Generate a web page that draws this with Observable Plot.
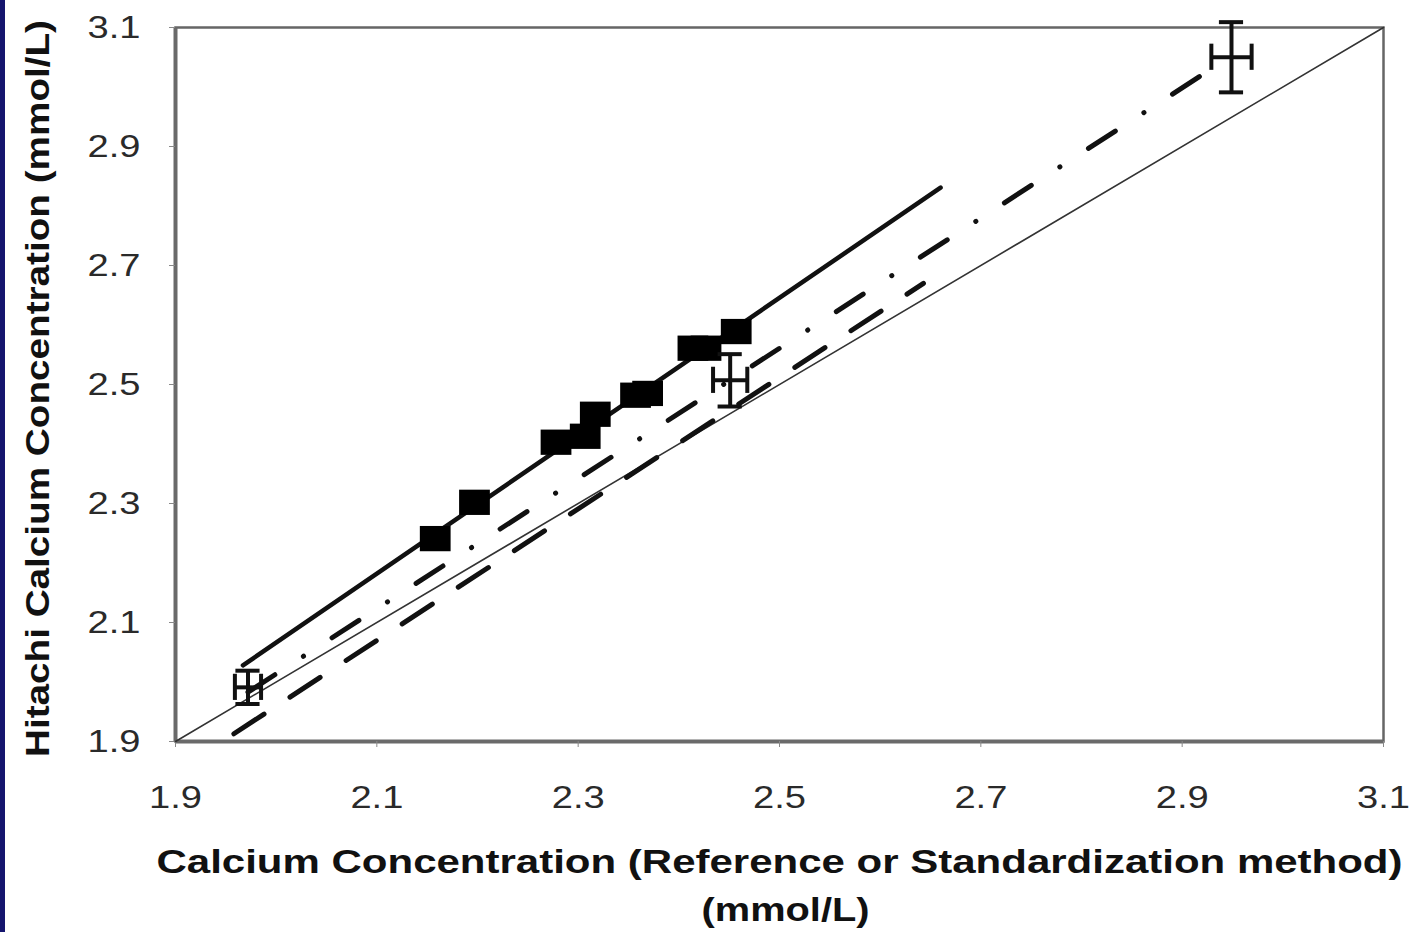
<!DOCTYPE html>
<html><head><meta charset="utf-8">
<script src="https://cdn.jsdelivr.net/npm/d3@7"></script>
<script src="https://cdn.jsdelivr.net/npm/@observablehq/plot@0.6"></script>
<style>
body{margin:0;background:#fff;}
#wrap{position:relative;width:1417px;height:932px;overflow:hidden;background:#fff;}
#strip{position:absolute;left:0;top:0;width:5px;height:932px;background:#15156e;}
</style></head><body><div id="wrap"><div id="strip"></div></div>
<script>
// Hitachi results (filled squares)
const squareX = [2.158, 2.197, 2.278, 2.307, 2.317, 2.357, 2.369, 2.414, 2.427, 2.457];
const squareY = [2.241, 2.302, 2.403, 2.413, 2.450, 2.482, 2.485, 2.561, 2.561, 2.589];
// reference points with error bars
const refX = [1.972, 2.451, 2.949];
const refY = [1.991, 2.507, 3.050];
const refErrX = [0.013, 0.017, 0.020];
const refErrY = [0.028, 0.044, 0.059];
// lines
const identityX = [1.9, 3.1];
const identityY = [1.9, 3.1];
const solidX = [1.967, 2.66];
const solidY = [2.028, 2.831];
const dashDotX = [1.972, 2.925];
const dashDotY = [1.983, 3.026];
const dashX = [1.958, 2.643];
const dashY = [1.913, 2.670];
const tickValues = [1.9, 2.1, 2.3, 2.5, 2.7, 2.9, 3.1];
const xTitle1 = "Calcium Concentration (Reference or Standardization method)";
const xTitle2 = "(mmol/L)";
const yTitle = "Hitachi Calcium Concentration (mmol/L)";

const squares = squareX.map((x, i) => ({x, y: squareY[i]}));
const refs = refX.map((x, i) => ({x, y: refY[i], ex: refErrX[i], ey: refErrY[i]}));
const line = (xs, ys) => xs.map((x, i) => ({x, y: ys[i]}));
const capX = 0.012, capY = 0.022;

const rectSymbol = {
  draw(ctx, size) {
    const s = Math.sqrt(size) / 2;
    const w = s * 1.12, h = s * 0.92;
    ctx.moveTo(-w, -h); ctx.lineTo(w, -h); ctx.lineTo(w, h); ctx.lineTo(-w, h); ctx.closePath();
  }
};

const titleStyle = {text: d => d, fontSize: 34, fontWeight: "bold", fill: "#111", textAnchor: "middle", lineAnchor: "middle"};

const chart = Plot.plot({
  width: 1417, height: 932,
  marginLeft: 175, marginRight: 34, marginTop: 27, marginBottom: 191,
  style: {fontFamily: "Liberation Sans, Arial, sans-serif", background: "#fff"},
  x: {domain: [1.9, 3.1]},
  y: {domain: [1.9, 3.1]},
  marks: [
    Plot.frame({stroke: "#666", strokeWidth: 2.5}),
    Plot.ruleX([1.9], {stroke: "#6a6a6a", strokeWidth: 4}),
    Plot.ruleY([1.9], {stroke: "#6a6a6a", strokeWidth: 4}),
    Plot.axisX({ticks: tickValues, tickFormat: d3.format(".1f"), tickSize: 6, tickPadding: 38, fontSize: 32, label: null, stroke: "#888", color: "#2a2a2a"}),
    Plot.axisY({ticks: tickValues, tickFormat: d3.format(".1f"), tickSize: 6, tickPadding: 29, fontSize: 32, label: null, stroke: "#888", color: "#2a2a2a"}),
    Plot.line(line(identityX, identityY), {x: "x", y: "y", stroke: "#333", strokeWidth: 1.6}),
    Plot.line(line(dashX, dashY), {x: "x", y: "y", stroke: "#111", strokeWidth: 5, strokeDasharray: "36,31", strokeLinecap: "round"}),
    Plot.line(line(dashDotX, dashDotY), {x: "x", y: "y", stroke: "#111", strokeWidth: 5, strokeDasharray: "32,34,0.1,34", strokeLinecap: "round"}),
    Plot.line(line(solidX, solidY), {x: "x", y: "y", stroke: "#111", strokeWidth: 4.5}),
    Plot.dot(squares, {x: "x", y: "y", symbol: rectSymbol, r: 15.5, fill: "#000", stroke: "none"}),
    // error bars
    Plot.ruleX(refs, {x: "x", y1: d => d.y - d.ey, y2: d => d.y + d.ey, stroke: "#111", strokeWidth: 4}),
    Plot.ruleY(refs, {y: "y", x1: d => d.x - d.ex, x2: d => d.x + d.ex, stroke: "#111", strokeWidth: 4}),
    Plot.ruleY(refs, {y: d => d.y - d.ey, x1: d => d.x - capX, x2: d => d.x + capX, stroke: "#111", strokeWidth: 4}),
    Plot.ruleY(refs, {y: d => d.y + d.ey, x1: d => d.x - capX, x2: d => d.x + capX, stroke: "#111", strokeWidth: 4}),
    Plot.ruleX(refs, {x: d => d.x - d.ex, y1: d => d.y - capY, y2: d => d.y + capY, stroke: "#111", strokeWidth: 4}),
    Plot.ruleX(refs, {x: d => d.x + d.ex, y1: d => d.y - capY, y2: d => d.y + capY, stroke: "#111", strokeWidth: 4}),
    // titles
    Plot.text([xTitle1], {...titleStyle, frameAnchor: "bottom", dy: 121}),
    Plot.text([xTitle2], {...titleStyle, frameAnchor: "bottom", dx: 6, dy: 169}),
    Plot.text([yTitle], {...titleStyle, frameAnchor: "left", dx: -137, dy: 4, rotate: -90})
  ]
});
document.getElementById("wrap").appendChild(chart);

// horizontally widen text to match the reference's wide lettering
const svg = d3.select(chart);
svg.selectAll('g[aria-label="x-axis tick label"] text, g[aria-label="y-axis tick label"] text').each(function() {
  const L = this.getComputedTextLength();
  this.setAttribute("textLength", L * 1.19);
  this.setAttribute("lengthAdjust", "spacingAndGlyphs");
});
const fit = (str, len) => svg.selectAll("text").filter(function() { return this.textContent === str; }).each(function() {
  this.setAttribute("textLength", len);
  this.setAttribute("lengthAdjust", "spacingAndGlyphs");
});
fit(xTitle1, 1246);
fit(xTitle2, 168);
fit(yTitle, 737);
</script>
</body></html>
